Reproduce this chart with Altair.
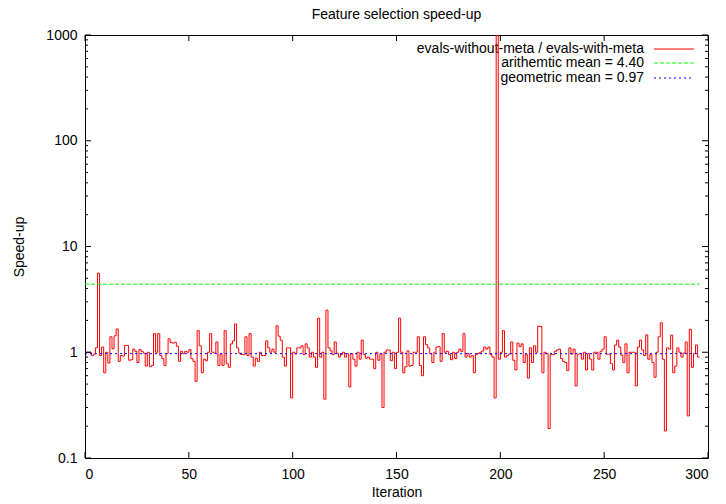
import altair as alt
import pandas as pd

# ---------------- data ----------------
speedup = [
    1.0, 1.0, 1.0, 0.93, 0.96, 1.1, 5.6, 0.93, 1.12, 0.64,
    1.0, 0.79, 1.4, 1.08, 1.43, 1.66, 0.82, 0.93, 0.92, 1.16,
    1.16, 0.84, 0.85, 1.07, 1.02, 0.8, 1.06, 1.02, 0.98, 0.74,
    1.0, 0.73, 0.75, 1.5, 1.0, 1.5, 0.93, 0.87, 0.75, 0.97,
    1.34, 1.24, 1.22, 1.24, 1.14, 0.82, 1.02, 0.97, 1.02, 1.0,
    1.06, 0.87, 0.82, 0.53, 1.6, 1.15, 0.64, 0.86, 0.83, 1.0,
    1.5, 1.0, 0.98, 1.25, 0.75, 0.96, 0.75, 1.6, 0.78, 0.72,
    1.2, 1.28, 1.85, 1.1, 0.98, 0.95, 0.95, 1.4, 0.93, 1.5,
    0.9, 0.74, 0.88, 0.82, 1.0, 0.93, 0.93, 1.28, 1.1, 1.0,
    1.07, 1.0, 1.78, 1.42, 1.3, 0.9, 0.74, 1.1, 1.1, 0.37,
    1.0, 0.97, 1.1, 1.1, 1.15, 0.95, 1.2, 1.1, 0.9, 1.0,
    0.9, 0.72, 2.1, 0.9, 1.0, 0.36, 2.5, 1.1, 1.03, 0.95,
    1.25, 0.98, 0.9, 0.95, 1.0, 0.9, 0.97, 0.47, 0.97, 0.86,
    0.74, 1.0, 0.86, 1.3, 0.95, 0.88, 0.9, 0.86, 0.86, 0.7,
    1.0, 0.84, 0.97, 0.3, 1.0, 1.05, 1.05, 0.83, 1.0, 0.7,
    1.0, 2.1, 1.0, 0.64, 0.73, 1.03, 0.74, 0.75, 1.0, 1.0,
    1.4, 0.75, 0.6, 1.4, 1.18, 1.1, 0.97, 0.8, 1.0, 1.12,
    1.13, 0.82, 1.5, 1.0, 1.02, 0.95, 0.85, 1.0, 0.87, 1.0,
    1.07, 1.02, 1.5, 0.9, 0.97, 0.9, 0.93, 0.64, 0.95, 0.97,
    1.0, 1.03, 1.12, 1.07, 1.12, 0.95, 0.9, 0.37, 1000.0, 0.86,
    1.0, 1.6, 0.9, 0.93, 0.96, 1.25, 0.84, 0.68, 1.22, 1.13,
    1.2, 0.8, 0.95, 0.57, 1.1, 0.8, 1.15, 1.0, 1.77, 1.75,
    0.64, 1.0, 0.97, 0.19, 0.95, 0.95, 1.02, 1.05, 1.07, 0.87,
    0.82, 0.8, 0.67, 1.1, 0.96, 1.07, 0.48, 0.96, 0.97, 0.86,
    1.0, 0.68, 0.97, 0.86, 0.68, 1.0, 1.0, 0.86, 1.02, 1.07,
    1.4, 0.96, 0.96, 0.78, 0.68, 1.17, 1.3, 1.12, 0.94, 0.8,
    1.2, 0.64, 1.0, 1.0, 1.0, 0.48, 1.12, 1.3, 1.05, 0.93,
    1.46, 0.86, 0.95, 0.8, 0.58, 1.0, 1.4, 1.9, 0.86, 0.18,
    1.1, 1.07, 1.45, 0.64, 0.74, 1.1, 1.0, 0.9, 0.98, 1.25,
    0.25, 1.65, 0.72, 0.97, 1.17, 0.9, 0.9,
]
iterations = list(range(len(speedup)))

arith_mean = [4.40]
geo_mean = [0.97]
mean_span = [0, 296]

x_ticks = [0, 50, 100, 150, 200, 250, 300]
y_major = [0.1, 1, 10, 100, 1000]
y_minor = [m * d for d in [0.1, 1, 10, 100] for m in [2, 3, 4, 5, 6, 7, 8, 9]]

legend_labels = [
    "evals-without-meta / evals-with-meta",
    "arithemtic mean = 4.40",
    "geometric mean = 0.97",
]

title_text = ["Feature selection speed-up"]
x_title = "Iteration"
y_title = "Speed-up"

# ---------------- layout ----------------
W, H = 623, 423
FONT = "Liberation Sans"
MAJ, MIN = 6, 3

xs = alt.Scale(domain=[0, 300], nice=False, zero=False)
ys = alt.Scale(type="log", domain=[0.1, 1000], nice=False)

x_axis = alt.Axis(values=x_ticks, format="d", title=x_title,
                  labelPadding=9, titleY=34, titleBaseline="middle")
y_axis = alt.Axis(values=y_major, labelExpr="format(datum.value, '~g')",
                  title=y_title, labelPadding=8, titleX=-66,
                  titleY=H / 2, titleBaseline="middle", titleAlign="center")

df = pd.DataFrame({"Iteration": iterations, "Speed-up": speedup})
mean_df = pd.DataFrame({"start": [mean_span[0]], "end": [mean_span[1]],
                        "arith": arith_mean, "geo": geo_mean})
xt_df = pd.DataFrame({"v": x_ticks})
ymaj_df = pd.DataFrame({"v": y_major})
ymin_df = pd.DataFrame({"v": y_minor})

main = alt.Chart(df).mark_line(
    interpolate="step-after", color="#ff0000", strokeWidth=1, clip=True
).encode(
    x=alt.X("Iteration:Q", scale=xs, axis=x_axis),
    y=alt.Y("Speed-up:Q", scale=ys, axis=y_axis),
)

arith = alt.Chart(mean_df).mark_rule(
    color="#00ff00", strokeWidth=1, strokeDash=[4, 2]
).encode(
    x=alt.X("start:Q", scale=xs, axis=x_axis), x2="end:Q",
    y=alt.Y("arith:Q", scale=ys, axis=y_axis),
)
geo = alt.Chart(mean_df).mark_rule(
    color="#0000ff", strokeWidth=1, strokeDash=[2, 3]
).encode(
    x=alt.X("start:Q", scale=xs, axis=x_axis), x2="end:Q",
    y=alt.Y("geo:Q", scale=ys, axis=y_axis),
)

def yticks(d, length):
    left = alt.Chart(d).mark_rule(color="black", strokeWidth=1).encode(
        y=alt.Y("v:Q", scale=ys, axis=y_axis), x=alt.value(0), x2=alt.value(length))
    right = alt.Chart(d).mark_rule(color="black", strokeWidth=1).encode(
        y=alt.Y("v:Q", scale=ys, axis=y_axis), x=alt.value(W - length), x2=alt.value(W))
    return [left, right]

xt_bottom = alt.Chart(xt_df).mark_rule(color="black", strokeWidth=1).encode(
    x=alt.X("v:Q", scale=xs, axis=x_axis), y=alt.value(H), y2=alt.value(H - MAJ))
xt_top = alt.Chart(xt_df).mark_rule(color="black", strokeWidth=1).encode(
    x=alt.X("v:Q", scale=xs, axis=x_axis), y=alt.value(0), y2=alt.value(MAJ))

legend_layers = []
leg_colors = ["#ff0000", "#00ff00", "#0000ff"]
leg_dash = [[1, 0], [4, 2], [2, 3]]
leg_y = [14, 28, 43]
for lab, col, dash, yy in zip(legend_labels, leg_colors, leg_dash, leg_y):
    ldf = pd.DataFrame({"label": [lab]})
    legend_layers.append(
        alt.Chart(ldf).mark_text(align="right", baseline="middle", font=FONT,
                                 fontSize=14, color="black").encode(
            text="label:N", x=alt.value(559), y=alt.value(yy)))
    legend_layers.append(
        alt.Chart(ldf).mark_rule(color=col, strokeWidth=1, strokeDash=dash).encode(
            x=alt.value(569), x2=alt.value(609), y=alt.value(yy)))

title_layer = alt.Chart(pd.DataFrame({"t": title_text})).mark_text(
    align="center", baseline="alphabetic", font=FONT, fontSize=14, color="black"
).encode(text="t:N", x=alt.value(W / 2), y=alt.value(-16))

# legend first so that the data line is drawn over it, as in the reference
layers = ([title_layer] + legend_layers + [main, arith, geo]
          + yticks(ymaj_df, MAJ) + yticks(ymin_df, MIN) + [xt_bottom, xt_top])

chart = alt.layer(*layers).properties(
    width=W, height=H,
    background="white",
    autosize=alt.AutoSizeParams(type="none"),
    padding={"left": 77, "top": 27, "right": 5, "bottom": 40},
).configure_view(
    stroke="black", strokeWidth=1
).configure_axis(
    domain=False, ticks=False, grid=False,
    labelFont=FONT, labelFontSize=14, labelColor="black",
    titleFont=FONT, titleFontSize=14, titleFontWeight="normal", titleColor="black",
)

chart.save("out.html", embed_options={"renderer": "svg", "actions": False})
